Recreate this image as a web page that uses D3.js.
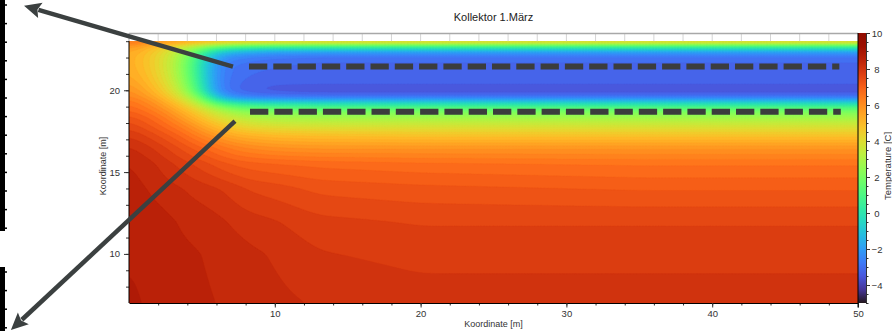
<!DOCTYPE html>
<html>
<head>
<meta charset="utf-8">
<script src="https://cdn.jsdelivr.net/npm/d3@7"></script>
<style>
  body { margin: 0; background: #fff; }
  svg { display: block; font-family: "Liberation Sans", Arial, sans-serif; }
</style>
</head>
<body>
<svg id="chart" width="892" height="331"></svg>
<script>
// grid: columns = x [m], rows = y [m] (top to bottom), values in degC
const xCols = [0, 1, 2, 3, 4, 5, 6, 7, 8, 10, 13, 20, 35, 50];
const yRows = [23, 22.9, 22.75, 22.55, 22.3, 22, 21.5, 21, 20.5, 20, 19.6, 19.3, 19, 18.7, 18.3, 17.8, 17.2, 16.5, 15.5, 14, 12, 10, 7];
const temps = [
  [6.8, 6.5, 6.2, 6.0, 5.8, 5.7, 5.6, 5.5, 5.5, 5.5, 5.5, 5.5, 5.5, 5.5],
  [6.4, 6.0, 5.6, 5.2, 4.8, 4.4, 4.0, 3.7, 3.5, 3.3, 3.3, 3.3, 3.3, 3.3],
  [6.0, 5.6, 5.1, 4.5, 3.8, 3.0, 2.4, 2.0, 1.8, 1.5, 1.5, 1.5, 1.5, 1.5],
  [5.7, 5.3, 4.7, 3.9, 3.0, 1.8, 0.6, 0.1, -0.2, -0.5, -0.5, -0.5, -0.5, -0.5],
  [5.5, 5.0, 4.4, 3.5, 2.3, 0.7, -1.0, -1.5, -1.8, -2.1, -2.2, -2.2, -2.2, -2.2],
  [5.4, 4.9, 4.3, 3.3, 2.0, 0.0, -2.0, -2.5, -2.7, -2.9, -3.0, -3.0, -3.0, -3.0],
  [5.4, 4.9, 4.3, 3.2, 1.8, -0.3, -2.5, -2.9, -3.0, -3.1, -3.2, -3.2, -3.2, -3.2],
  [5.5, 5.0, 4.4, 3.3, 1.9, -0.3, -2.6, -2.9, -3.1, -3.2, -3.2, -3.2, -3.2, -3.2],
  [5.7, 5.2, 4.6, 3.5, 2.1, -0.1, -2.6, -3.0, -3.2, -3.3, -3.3, -3.3, -3.3, -3.3],
  [6.0, 5.5, 4.9, 3.9, 2.5, 0.3, -2.5, -3.0, -3.3, -3.5, -3.6, -3.6, -3.6, -3.6],
  [6.3, 5.8, 5.3, 4.4, 3.2, 1.6, -1.4, -2.4, -2.7, -2.9, -3.0, -3.0, -3.0, -3.0],
  [6.6, 6.2, 5.7, 4.9, 3.9, 2.6, 0.5, -0.3, -0.7, -0.9, -1.0, -1.0, -1.0, -1.0],
  [6.8, 6.4, 6.0, 5.3, 4.5, 3.5, 2.2, 1.5, 1.1, 0.9, 0.8, 0.8, 0.8, 0.8],
  [7.0, 6.7, 6.3, 5.7, 5.0, 4.2, 3.3, 2.7, 2.3, 2.1, 2.0, 2.0, 2.0, 2.0],
  [7.3, 7.0, 6.7, 6.1, 5.5, 4.8, 4.1, 3.6, 3.2, 2.9, 2.8, 2.8, 2.8, 2.8],
  [7.6, 7.3, 7.0, 6.6, 6.1, 5.5, 4.9, 4.5, 4.1, 3.9, 3.8, 3.8, 3.8, 3.8],
  [7.9, 7.7, 7.4, 7.1, 6.7, 6.2, 5.8, 5.4, 5.2, 5.0, 4.9, 4.8, 4.8, 4.8],
  [8.2, 8.0, 7.8, 7.5, 7.2, 6.9, 6.6, 6.3, 6.1, 5.9, 5.8, 5.8, 5.8, 5.8],
  [8.4, 8.3, 8.1, 7.9, 7.7, 7.5, 7.3, 7.1, 7.0, 6.9, 6.8, 6.7, 6.6, 6.6],
  [8.5, 8.4, 8.3, 8.2, 8.1, 8.0, 7.9, 7.8, 7.6, 7.5, 7.3, 7.2, 7.1, 7.1],
  [8.6, 8.5, 8.5, 8.4, 8.3, 8.3, 8.2, 8.1, 8.0, 7.9, 7.7, 7.6, 7.6, 7.6],
  [8.6, 8.6, 8.5, 8.5, 8.4, 8.4, 8.3, 8.3, 8.2, 8.1, 7.9, 7.8, 7.8, 7.8],
  [8.7, 8.6, 8.6, 8.5, 8.5, 8.4, 8.4, 8.3, 8.3, 8.2, 8.1, 8.0, 8.0, 8.0]
];

// collector pipes (dashed) and the two annotation arrows, in data units
const pipes = [
  { y: 21.46, x0: 8.23, x1: 48.72 },
  { y: 18.69, x0: 8.30, x1: 48.82 }
];
const arrows = [
  { x0: 7.13, y0: 21.45, x1: -7.2, y1: 25.17 },
  { x0: 7.27, y0: 18.12, x1: -8.1, y1: 5.35 }
];

const xTicks = [10, 20, 30, 40, 50];
const yTicks = [10, 15, 20];
const cTicks = [-4, -2, 0, 2, 4, 6, 8, 10];

const svg = d3.select("#chart");
const pL = 129, pR = 858, pT = 33, pB = 303;

const x = d3.scaleLinear().domain([0, 50]).range([pL, pR]);
const y = d3.scaleLinear().domain([7, 23.5]).range([pB, pT]);
const color = d3.scaleSequential(d3.interpolateTurbo).domain([-5, 10]);

// resample the read grid onto a regular one so d3.contours can band it
const step = 0.1;
const nx = Math.round(50 / step) + 1;
const ny = Math.round((23 - 7) / step) + 1;

function seg(arr, v) {
  for (let k = 0; k < arr.length - 1; k++) {
    const a = arr[k], b = arr[k + 1];
    if (v >= Math.min(a, b) && v <= Math.max(a, b)) return [k, (v - a) / (b - a)];
  }
  return [arr.length - 2, 1];
}

const grid = new Float64Array(nx * ny);
for (let j = 0; j < ny; j++) {
  const [r, fy] = seg(yRows, 23 - j * step);
  for (let i = 0; i < nx; i++) {
    const [c, fx] = seg(xCols, i * step);
    const t0 = temps[r][c] * (1 - fx) + temps[r][c + 1] * fx;
    const t1 = temps[r + 1][c] * (1 - fx) + temps[r + 1][c + 1] * fx;
    grid[j * nx + i] = t0 * (1 - fy) + t1 * fy;
  }
}
// soften the corners of the coarse read grid
if (d3.blur2) d3.blur2({ data: grid, width: nx, height: ny }, 6, 1);

// 0.25 degC bands, offset a little so that no read value sits on a level
const levels = d3.range(-5.12, 10, 0.25);
const bands = d3.contours().size([nx, ny]).thresholds(levels)(grid);

const proj = d3.geoTransform({
  point(gx, gy) {
    this.stream.point(x((gx - 0.5) * step), y(23 - (gy - 0.5) * step));
  }
});
const path = d3.geoPath(proj);

svg.append("clipPath").attr("id", "clip")
  .append("rect")
  .attr("x", pL).attr("y", y(23))
  .attr("width", pR - pL).attr("height", pB - y(23));

svg.append("g")
  .attr("clip-path", "url(#clip)")
  .selectAll("path")
  .data(bands)
  .join("path")
  .attr("d", path)
  .attr("fill", d => color(d.value + 0.125))
  .attr("stroke", d => color(d.value + 0.125))
  .attr("stroke-width", 0.3);

// white strip above the surface with the top ticks
svg.append("g")
  .selectAll("line")
  .data(d3.range(2, 50, 2))
  .join("line")
  .attr("x1", d => x(d)).attr("x2", d => x(d))
  .attr("y1", pT).attr("y2", y(23))
  .attr("stroke", "#d4d4d4")
  .attr("stroke-width", 1);

svg.append("line")
  .attr("x1", pL).attr("x2", pR)
  .attr("y1", pT + 0.5).attr("y2", pT + 0.5)
  .attr("stroke", "#a8a8a8")
  .attr("stroke-width", 1.5);

svg.append("line")
  .attr("x1", pL).attr("x2", pL)
  .attr("y1", pT).attr("y2", y(23))
  .attr("stroke", "#a8a8a8");

// axes
const axisStyle = g => {
  g.select(".domain").attr("stroke", "#000");
  g.selectAll(".tick line").attr("stroke", "#333");
  g.selectAll("text").attr("fill", "#333").style("font-size", "9.5px");
};

svg.append("g")
  .attr("transform", `translate(0,${pB})`)
  .call(d3.axisBottom(x).tickValues(d3.range(2, 50, 2)).tickSize(2.5).tickFormat(""))
  .call(g => g.select(".domain").remove())
  .call(g => g.selectAll(".tick line").attr("stroke", "#333"));

svg.append("g")
  .attr("transform", `translate(0,${pB})`)
  .call(d3.axisBottom(x).tickValues(xTicks).tickSize(4.5).tickPadding(3).tickSizeOuter(0))
  .call(axisStyle);

svg.append("g")
  .attr("transform", `translate(${pL},0)`)
  .call(d3.axisLeft(y).tickValues(d3.range(8, 24, 1)).tickSize(3).tickFormat(""))
  .call(g => g.select(".domain").remove())
  .call(g => g.selectAll(".tick line").attr("stroke", "#333"));

svg.append("g")
  .attr("transform", `translate(${pL},0)`)
  .call(d3.axisLeft(y).tickValues(yTicks).tickSize(5).tickPadding(4))
  .call(axisStyle)
  .call(g => g.select(".domain").attr("d", `M0,${pB}V${y(23)}`));

// collector pipes
svg.append("g")
  .selectAll("line")
  .data(pipes)
  .join("line")
  .attr("x1", d => x(d.x0)).attr("x2", d => x(d.x1))
  .attr("y1", d => y(d.y)).attr("y2", d => y(d.y))
  .attr("stroke", "#3b3d3d")
  .attr("stroke-width", 6)
  .attr("stroke-dasharray", "18.3 6");

// colour bar
const cb = { x: pR, w: 8 };
const cScale = d3.scaleLinear().domain([-5, 10]).range([pB, pT]);
const grad = svg.append("defs").append("linearGradient")
  .attr("id", "cbar").attr("x1", 0).attr("y1", 1).attr("x2", 0).attr("y2", 0);
grad.selectAll("stop")
  .data(d3.range(0, 1.0001, 0.05))
  .join("stop")
  .attr("offset", d => d)
  .attr("stop-color", d => d3.interpolateTurbo(d));

svg.append("rect")
  .attr("x", cb.x).attr("y", pT)
  .attr("width", cb.w).attr("height", pB - pT)
  .attr("fill", "url(#cbar)");

svg.append("line")
  .attr("x1", pR).attr("x2", pR)
  .attr("y1", pT).attr("y2", pB + 4.5)
  .attr("stroke", "#000");

svg.append("g")
  .attr("transform", `translate(${cb.x + cb.w},0)`)
  .call(d3.axisRight(cScale).tickValues(d3.range(-5, 10.01, 0.5)).tickSize(2.5).tickFormat(""))
  .call(g => g.select(".domain").remove())
  .call(g => g.selectAll(".tick line").attr("stroke", "#333"));

svg.append("g")
  .attr("transform", `translate(${cb.x + cb.w},0)`)
  .call(d3.axisRight(cScale).tickValues(cTicks).tickSize(4).tickSizeOuter(0))
  .call(axisStyle)
  .call(g => g.select(".domain").attr("stroke", "#333"))
  .call(g => g.selectAll("text").attr("x", 11).attr("text-anchor", "middle"));

// arrows
const arrowG = svg.append("g").attr("fill", "#3b4040").attr("stroke", "#3b4040");
arrows.forEach(a => {
  const sx = x(a.x0), sy = y(a.y0), tx = x(a.x1), ty = y(a.y1);
  const len = Math.hypot(tx - sx, ty - sy);
  const ux = (tx - sx) / len, uy = (ty - sy) / len;
  const hl = 17, hw = 8;
  const bx = tx - ux * hl, by = ty - uy * hl;
  arrowG.append("line")
    .attr("x1", sx).attr("y1", sy)
    .attr("x2", bx + ux * 2).attr("y2", by + uy * 2)
    .attr("stroke-width", 4.5);
  arrowG.append("path")
    .attr("stroke", "none")
    .attr("d", `M${tx},${ty}L${bx - uy * hw},${by + ux * hw}L${bx + ux * 3},${by + uy * 3}L${bx + uy * hw},${by - ux * hw}Z`);
});

// texts
svg.append("text")
  .attr("x", (pL + pR) / 2).attr("y", 21)
  .attr("text-anchor", "middle")
  .attr("fill", "#222").style("font-size", "11px")
  .text("Kollektor 1.März");

svg.append("text")
  .attr("x", (pL + pR) / 2).attr("y", 327)
  .attr("text-anchor", "middle")
  .attr("fill", "#333").style("font-size", "9px")
  .text("Koordinate [m]");

svg.append("text")
  .attr("transform", `translate(106,${(pT + pB) / 2 - 2}) rotate(-90)`)
  .attr("text-anchor", "middle")
  .attr("fill", "#333").style("font-size", "9px")
  .text("Koordinate [m]");

svg.append("text")
  .attr("transform", `translate(891,${(pT + pB) / 2 - 2}) rotate(-90)`)
  .attr("text-anchor", "middle")
  .attr("fill", "#333").style("font-size", "9.5px")
  .text("Temperature [C]");

// cut-off frame pieces at the left margin
const edge = svg.append("g").attr("fill", "#000");
[[0, 231], [267, 331]].forEach(([a, b]) => {
  edge.append("rect").attr("x", 0).attr("y", a).attr("width", 5).attr("height", b - a);
  edge.selectAll(null)
    .data(d3.range(a + 5, b, 18.6))
    .join("rect")
    .attr("x", 5).attr("y", d => d - 0.75)
    .attr("width", 2).attr("height", 1.5);
});
</script>
</body>
</html>
